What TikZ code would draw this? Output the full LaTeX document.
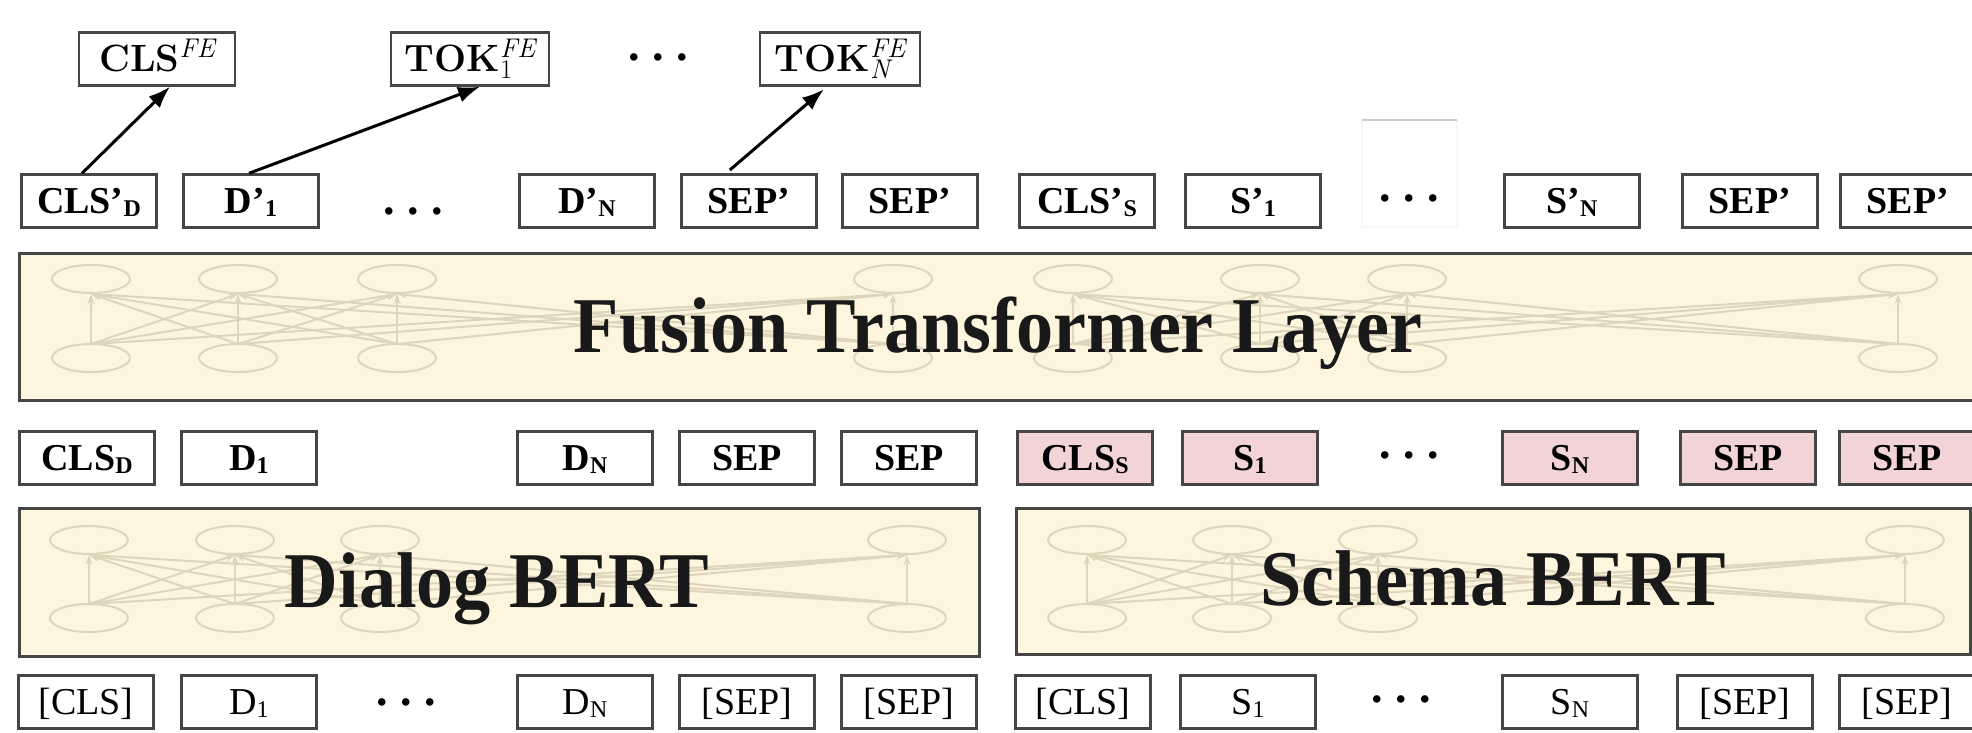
\documentclass[tikz,border=0pt]{standalone}
\usepackage[no-math]{fontspec}
\usetikzlibrary{arrows.meta}
\newfontfamily\tms{Liberation Serif}
\newcommand\tmsb{\tms\bfseries\fontsize{38}{40}\selectfont}
\newcommand\tmsr{\tms\fontsize{38}{40}\selectfont}
\newcommand\bigfont{\tms\bfseries\fontsize{79}{90}\selectfont}
\newcommand\cmfe{\rmfamily\bfseries\fontsize{38}{40}\selectfont}
\newcommand\sbx[1]{\raisebox{-3pt}{\fontsize{24}{24}\selectfont #1}}
\newcommand\tdots{\fontsize{46}{46}\selectfont .\hspace{12.5pt}.\hspace{12.5pt}.}
\newcommand\squash[1]{\scalebox{0.94}[1]{#1}}
% superscript (italic) and optional subscript, stacked, in Latin Modern
\newcommand\fesupsub[2]{{\mdseries\fontsize{27}{27}\selectfont
  \setbox0\hbox{\itshape #1}\setbox2\hbox{#2}%
  \ifdim\wd0>\wd2 \dimen0=\wd0 \else \dimen0=\wd2 \fi
  \hbox to \dimen0{\rlap{\raise 14pt\box0}\lower 7pt\box2\hfil}}}

\definecolor{cream}{RGB}{254,245,222}
\definecolor{pinkfill}{RGB}{242,212,215}
\definecolor{boxline}{RGB}{70,70,70}
\definecolor{wmcol}{RGB}{223,213,188}
\definecolor{ink}{RGB}{25,25,25}

\tikzset{
  tok/.style={draw=boxline, line width=2.4pt, fill=white, minimum width=135pt,
    minimum height=53pt, inner sep=0pt, text height=25pt, text depth=0pt, font=\tmsb},
  tokpink/.style={tok, fill=pinkfill},
  tokin/.style={tok, font=\tmsr},
  fe/.style={tok, minimum height=53pt, text height=26pt, font=\cmfe},
  layer/.style={draw=boxline, line width=2.6pt, fill=cream, anchor=north west, inner sep=0pt},
  layertext/.style={font=\bigfont, text=ink, anchor=base, inner sep=0pt},
  dotsnode/.style={font=\tms\bfseries, anchor=base, inner sep=0pt},
  link/.style={-{Latex[length=22pt,width=16pt]}, line width=3pt, black},
  wm/.style={draw=wmcol, line width=2pt},
  wmarrow/.style={wm, -{Stealth[length=10pt,width=7pt]}}
}

% faint picture of a fully connected layer: ellipses on two rows with arrows
\newcommand\wmnet[3]{%
  \foreach \a in {#1} {
    \draw[wm] (\a,#2) ellipse (39 and 14);
    \draw[wm] (\a,#3) ellipse (39 and 14);
  }
  \foreach \a in {#1} {
    \foreach \b in {#1} {
      \draw[wmarrow] (\a,#3-14) -- (\b,#2+15);
    }
  }
}

\begin{document}
\begin{tikzpicture}[x=1pt,y=-1pt]
\path[use as bounding box, fill=white] (0,0) rectangle (1972,733);
\clip (0,0) rectangle (1972,733);

% ---------- output features ----------
\node[fe, minimum width=156pt] (clsfe) at (157,59) {CLS\fesupsub{FE}{}};
\node[fe, minimum width=158pt] (tokone) at (470,59) {TOK\fesupsub{FE}{1}};
\node[dotsnode] (fedots) at (658,61) {\tdots};
\node[fe, minimum width=160pt] (tokn) at (840,59) {TOK\fesupsub{FE}{\itshape N}};

% ---------- fused token outputs ----------
\draw[black!3, line width=1.2pt] (1362,120) rectangle (1457,227);
\draw[black!20, line width=1.5pt] (1362,120) -- (1457,120);
\node[tok] (clsdp) at (89,201) {CLS’\sbx{D}};
\node[tok] (dpone) at (251,201) {D’\sbx{1}};
\node[dotsnode] (pdotsl) at (413,214) {\tdots};
\node[tok] (dpn) at (587,201) {D’\sbx{N}};
\node[tok] (seppa) at (749,201) {SEP’};
\node[tok] (seppb) at (910,201) {SEP’};
\node[tok] (clssp) at (1087,201) {CLS’\sbx{S}};
\node[tok] (spone) at (1253,201) {S’\sbx{1}};
\node[dotsnode] (pdotsr) at (1409,201) {\tdots};
\node[tok] (spn) at (1572,201) {S’\sbx{N}};
\node[tok] (seppc) at (1750,201) {SEP’};
\node[tok] (seppd) at (1908,201) {SEP’};

\draw[link] ([xshift=-7pt]clsdp.north) -- ([xshift=13pt]clsfe.south);
\draw[link] ([xshift=-2pt]dpone.north) -- ([xshift=10pt]tokone.south);
\draw[link, shorten <=5pt, shorten >=4pt] ([xshift=-23pt]seppa.north) -- ([xshift=-13pt]tokn.south);

% ---------- fusion layer ----------
\node[layer, minimum width=1990pt, minimum height=147pt] (fusion) at (18,252) {};
\wmnet{91,238,397,893}{279}{358}
\wmnet{1073,1260,1407,1898}{279}{358}
\node[layertext] (fusiontxt) at (998,352) {\squash{Fusion Transformer Layer}};

% ---------- encoder outputs ----------
\node[tok] (clsd) at (87,458) {CLS\sbx{D}};
\node[tok] (done) at (249,458) {D\sbx{1}};
\node[tok] (dn) at (585,458) {D\sbx{N}};
\node[tok] (sepa) at (747,458) {SEP};
\node[tok] (sepb) at (909,458) {SEP};
\node[tokpink] (clss) at (1085,458) {CLS\sbx{S}};
\node[tokpink] (sone) at (1250,458) {S\sbx{1}};
\node[dotsnode] (odots) at (1409,458) {\tdots};
\node[tokpink] (sn) at (1570,458) {S\sbx{N}};
\node[tokpink] (sepc) at (1748,458) {SEP};
\node[tokpink] (sepd) at (1907,458) {SEP};

% ---------- encoders ----------
\node[layer, minimum width=960pt, minimum height=148pt] (dialog) at (18,507) {};
\wmnet{89,235,380,907}{540}{618}
\node[layertext] (dialogtxt) at (497,607) {\squash{Dialog BERT}};

\node[layer, minimum width=954pt, minimum height=146pt] (schema) at (1015,507) {};
\wmnet{1087,1232,1378,1905}{540}{618}
\node[layertext] (schematxt) at (1493,605) {\squash{Schema BERT}};

% ---------- input tokens ----------
\node[tokin] (icla) at (86,702) {[CLS]};
\node[tokin] (idone) at (249,702) {D\sbx{1}};
\node[dotsnode] (idotsl) at (406,705) {\tdots};
\node[tokin] (idn) at (585,702) {D\sbx{N}};
\node[tokin] (isepa) at (747,702) {[SEP]};
\node[tokin] (isepb) at (909,702) {[SEP]};
\node[tokin] (iclb) at (1083,702) {[CLS]};
\node[tokin] (isone) at (1248,702) {S\sbx{1}};
\node[dotsnode] (idotsr) at (1401,702) {\tdots};
\node[tokin] (isn) at (1570,702) {S\sbx{N}};
\node[tokin] (isepc) at (1745,702) {[SEP]};
\node[tokin] (isepd) at (1907,702) {[SEP]};
\end{tikzpicture}
\end{document}
